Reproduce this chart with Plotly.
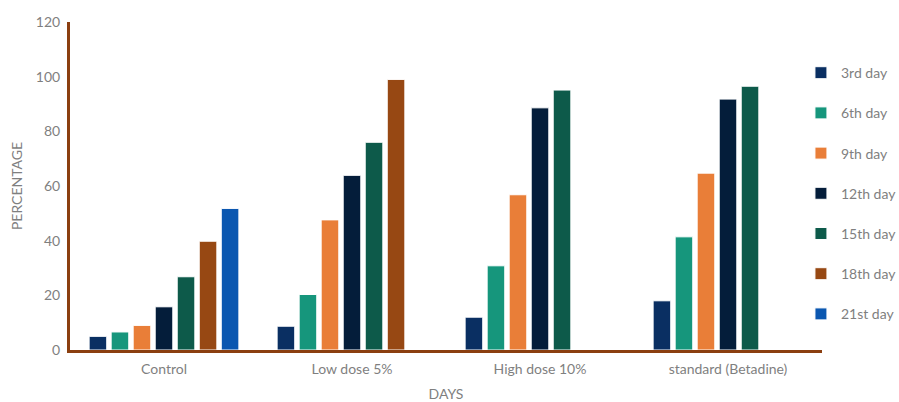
import plotly.graph_objects as go

categories = ["Control", "Low dose 5%", "High dose 10%", "standard (Betadine)"]
series_names = ["3rd day", "6th day", "9th day", "12th day", "15th day", "18th day", "21st day"]
day3 = [5, 8.7, 12, 18]
day6 = [6.6, 20.3, 30.8, 41.4]
day9 = [9, 47.6, 56.8, 64.7]
day12 = [15.8, 63.9, 88.6, 91.8]
day15 = [26.8, 76, 95.1, 96.5]
day18 = [39.8, 99, None, None]
day21 = [51.8, None, None, None]
colors = ["#0a2f62", "#16967c", "#e97e38", "#041d3a", "#0d5a4a", "#974813", "#0b57b0"]
y_ticks = [0, 20, 40, 60, 80, 100, 120]

series = [day3, day6, day9, day12, day15, day18, day21]
fig = go.Figure()
for name, vals, col in zip(series_names, series, colors):
    fig.add_trace(go.Bar(
        x=categories, y=vals, name=name, legendgroup=name,
        marker=dict(color=col, line=dict(color="white", width=1)),
    ))

axis_color = "#8b3f10"
font_color = "#7f7f7f"
fig.update_layout(
    width=899, height=402,
    margin=dict(l=70, r=77, t=22, b=52, autoexpand=False),
    paper_bgcolor="white", plot_bgcolor="white",
    barmode="group", bargap=0.18, bargroupgap=0.2,
    font=dict(family="Lato, Open Sans, sans-serif", size=14, color=font_color),
    showlegend=True,
    legend=dict(x=0.972, xanchor="left", y=0.893, yanchor="top",
                tracegroupgap=19, font=dict(size=14, color=font_color),
                itemwidth=30, bgcolor="rgba(0,0,0,0)"),
    xaxis=dict(showline=True, linecolor=axis_color, linewidth=3, ticks="",
               automargin=False, ticklabelstandoff=4,
               title=dict(text="DAYS", standoff=16, font=dict(size=14, color=font_color)),
               tickfont=dict(size=14, color=font_color)),
    yaxis=dict(range=[0, 120], tickvals=y_ticks, showgrid=False, zeroline=False,
               automargin=False, ticklabelstandoff=4,
               showline=True, linecolor=axis_color, linewidth=3, ticks="",
               title=dict(text="PERCENTAGE", standoff=10, font=dict(size=14, color=font_color)),
               tickfont=dict(size=14, color=font_color)),
)
fig.write_html("out.html", config={"displayModeBar": False},
               post_script="document.body.style.margin='0';document.body.style.overflow='hidden';")
